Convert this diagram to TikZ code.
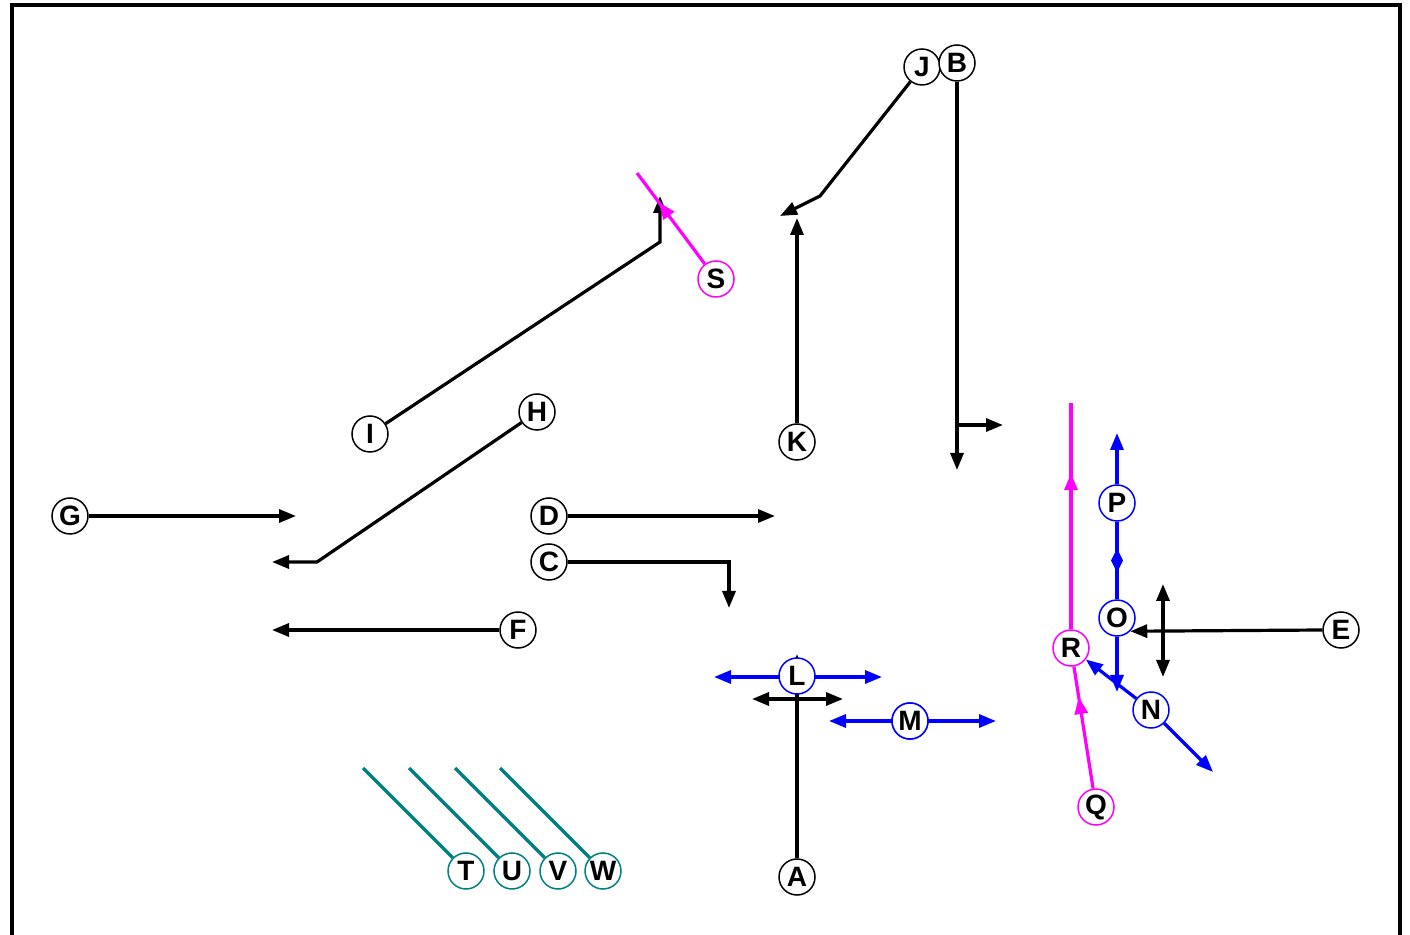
\documentclass[tikz,border=0pt]{standalone}
\usepackage{fontspec}
\setmainfont{Liberation Sans}
\usetikzlibrary{arrows.meta,decorations.markings}
\definecolor{routemag}{RGB}{255,0,255}
\definecolor{routeblue}{RGB}{0,0,255}
\definecolor{routeteal}{RGB}{0,128,128}
\begin{document}
\begin{tikzpicture}[x=0.5pt,y=-0.5pt,
  player/.style={circle,draw=black,line width=0.75pt,fill=white,minimum size=18pt,
    inner sep=0pt,font=\fontsize{14}{16}\selectfont\bfseries},
  magp/.style={player,draw=routemag},
  bluep/.style={player,draw=routeblue},
  tealp/.style={player,draw=routeteal},
  route/.style={line width=1.6pt,line join=miter},
  tip/.style={-{Triangle[length=8.5pt,width=6.5pt]}},
  twotip/.style={{Triangle[length=8.5pt,width=6.5pt]}-{Triangle[length=8.5pt,width=6.5pt]}},
  midtip/.style={decoration={markings,
    mark=at position #1 with {\arrow{Triangle[length=8.5pt,width=6.5pt]}}},
    postaction={decorate}},
  midknot/.style={decoration={markings,
    mark=at position #1 with {\fill (-6pt,0) -- (0,3pt) -- (6pt,0) -- (0,-3pt) -- cycle;}},
    postaction={decorate}}
]
\useasboundingbox (0,0) rectangle (1410,935);

% frame
\draw[line width=2pt,line join=miter] (12,936) -- (12,5) -- (1400,5) -- (1400,936);

% free route ends
\coordinate (jbend) at (820,196);
\coordinate (jend) at (780,216);
\coordinate (bend) at (957,470);
\coordinate (bbr) at (957,425);
\coordinate (bbrend) at (1003,425);
\coordinate (send) at (637,173);
\coordinate (ibend) at (660,242);
\coordinate (iend) at (660,196);
\coordinate (kend) at (797,218);
\coordinate (hbend) at (317,562);
\coordinate (hend) at (272,562);
\coordinate (gend) at (296,516);
\coordinate (dend) at (775,516);
\coordinate (cbend) at (729,562);
\coordinate (cend) at (729,608);
\coordinate (fend) at (272,630);
\coordinate (etop) at (1163,584);
\coordinate (ebot) at (1163,677);
\coordinate (pend) at (1117,433);
\coordinate (oend) at (1117,692);
\coordinate (nend) at (1213,772);
\coordinate (rend) at (1071,403);
\coordinate (lleft) at (714,677);
\coordinate (lright) at (882,677);
\coordinate (aleft) at (752,699);
\coordinate (aright) at (843,699);
\coordinate (aend) at (797,654);
\coordinate (mleft) at (829,721);
\coordinate (mright) at (996,721);
\coordinate (tend) at (363,768);
\coordinate (uend) at (409,768);
\coordinate (vend) at (455,768);
\coordinate (wend) at (500,768);

% players
\node[player] (J) at (922,67) {J};
\node[player] (B) at (957,63) {B};
\node[magp]   (S) at (716,279) {S};
\node[player] (I) at (370,434) {I};
\node[player] (H) at (537,412) {H};
\node[player] (K) at (797,442) {K};
\node[player] (G) at (70,516) {G};
\node[player] (D) at (549,516) {D};
\node[player] (C) at (549,562) {C};
\node[player] (F) at (518,630) {F};
\node[bluep]  (P) at (1117,503) {P};
\node[bluep]  (O) at (1117,618) {O};
\node[player] (E) at (1341,630) {E};
\node[magp]   (R) at (1071,648) {R};
\node[bluep]  (M) at (910,721) {M};
\node[bluep]  (N) at (1151,710) {N};
\node[magp]   (Q) at (1096,807) {Q};
\node[player] (A) at (797,877) {A};
\node[tealp]  (T) at (466,871) {T};
\node[tealp]  (U) at (512,871) {U};
\node[tealp]  (V) at (558,871) {V};
\node[tealp]  (W) at (603,871) {W};

% black routes
\draw[route,tip] (J) -- (jbend) -- (jend);
\draw[route,tip] (B) -- (bend);
\draw[route,tip] (bbr) -- (bbrend);
\draw[route,tip] (I) -- (ibend) -- (iend);
\draw[route,tip] (K) -- (kend);
\draw[route,tip] (H) -- (hbend) -- (hend);
\draw[route,tip] (G) -- (gend);
\draw[route,tip] (D) -- (dend);
\draw[route,tip] (C) -- (cbend) -- (cend);
\draw[route,tip] (F) -- (fend);
\draw[route,tip] (E.west) -- (O.-45);
\draw[route,twotip] (etop) -- (ebot);
\draw[route,tip] (A) -- (aend);
\draw[route,twotip] (aleft) -- (aright);

% magenta routes
\draw[route,routemag,midtip=0.68] (S) -- (send);
\draw[route,routemag,midtip=0.75] (Q) -- (R);
\draw[route,routemag,midtip=0.69] (R) -- (rend);

% blue routes
\draw[route,routeblue,tip] (P) -- (pend);
\draw[route,routeblue,midknot=0.5] (P) -- (O);
\draw[route,routeblue,tip] (O) -- (oend);
\draw[route,routeblue,tip] (N) -- (R);
\draw[route,routeblue,tip] (N) -- (nend);
\draw[route,routeblue,twotip] (lleft) -- (lright);
\draw[route,routeblue,twotip] (mleft) -- (mright);

% teal routes
\draw[route,routeteal] (T) -- (tend);
\draw[route,routeteal] (U) -- (uend);
\draw[route,routeteal] (V) -- (vend);
\draw[route,routeteal] (W) -- (wend);

% nodes drawn over the lines that cross them
\node[bluep] (L) at (797,676) {L};
\node[bluep] at (M) {M};
\end{tikzpicture}
\end{document}
